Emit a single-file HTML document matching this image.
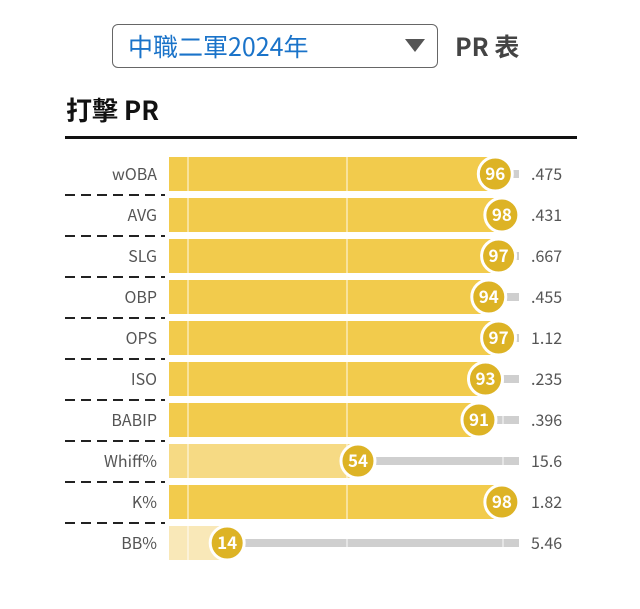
<!DOCTYPE html><html><head><style>
body{margin:0;width:640px;height:609px;background:#fff;font-family:"Noto Sans CJK TC","Liberation Sans",sans-serif;position:relative;overflow:hidden}
.a{position:absolute}
</style></head><body>
<div class="a" style="left:112px;top:24px;width:324px;height:42px;border:1.5px solid #666;border-radius:6px"></div>
<div class="a" style="left:128px;top:29px;font-size:25px;color:#1a73c9;line-height:34px">中職二軍2024年</div>
<div class="a" style="left:405px;top:39px;width:0;height:0;border-left:10px solid transparent;border-right:10px solid transparent;border-top:13px solid #555"></div>
<div class="a" style="left:455px;top:29px;font-size:25px;color:#444;font-weight:bold;line-height:34px">PR 表</div>
<div class="a" style="left:66px;top:92px;font-size:26px;color:#111;font-weight:bold;line-height:36px">打擊 PR</div>
<div class="a" style="left:65px;top:136px;width:512px;height:3px;background:#111"></div>
<svg class="a" style="left:0;top:0" width="640" height="609" font-family="Noto Sans CJK TC, Liberation Sans, sans-serif">
<g id="rows"></g>
</svg>
<script>
var d=[["wOBA",96,".475"],["AVG",98,".431"],["SLG",97,".667"],["OBP",94,".455"],["OPS",97,"1.12"],["ISO",93,".235"],["BABIP",91,".396"],["Whiff%",54,"15.6"],["K%",98,"1.82"],["BB%",14,"5.46"]];
var s="";
d.forEach(function(r,i){var cy=174+41*i,x=181.4+3.27*r[1];
var col=r[1]>=70?"#f2cb4c":(r[1]>=40?"#f6da84":"#f9e8b8");
s+='<text x="157" y="'+(cy+6)+'" text-anchor="end" font-size="16" fill="#555">'+r[0]+'</text>';
if(i<9)s+='<line x1="65" x2="165" y1="'+(cy+21)+'" y2="'+(cy+21)+'" stroke="#222" stroke-width="2" stroke-dasharray="10,6"/>';
s+='<rect x="'+x+'" y="'+(cy-4)+'" width="'+(519-x)+'" height="8" fill="#cfcfcf"/>';
s+='<rect x="169" y="'+(cy-17)+'" width="'+(x-169)+'" height="34" fill="'+col+'"/>';
[188,347,503].forEach(function(l){s+='<line x1="'+l+'" x2="'+l+'" y1="'+(cy-17)+'" y2="'+(cy+17)+'" stroke="#fff" stroke-opacity="0.45" stroke-width="2"/>';});
s+='<circle cx="'+x+'" cy="'+cy+'" r="17" fill="#ddb325" stroke="#fff" stroke-width="3"/>';
s+='<text x="'+x+'" y="'+(cy+6)+'" text-anchor="middle" font-size="17" font-weight="bold" fill="#fff">'+r[1]+'</text>';
s+='<text x="531" y="'+(cy+6)+'" font-size="16" fill="#555">'+r[2]+'</text>';});
document.getElementById("rows").innerHTML=s;
</script>
</body></html>
